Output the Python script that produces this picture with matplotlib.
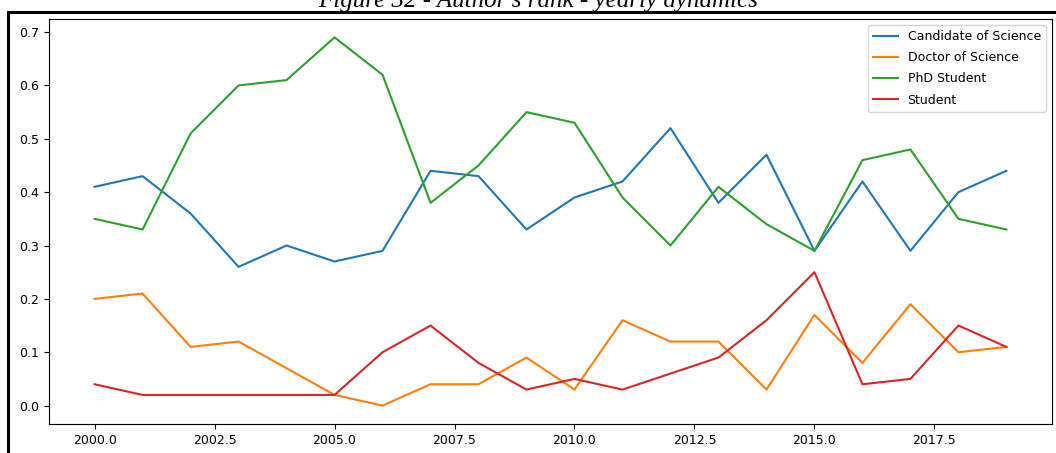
import matplotlib.pyplot as plt
from matplotlib.patches import Rectangle

years = list(range(2000, 2020))
candidate = [0.41, 0.43, 0.36, 0.26, 0.30, 0.27, 0.29, 0.44, 0.43, 0.33,
             0.39, 0.42, 0.52, 0.38, 0.47, 0.29, 0.42, 0.29, 0.40, 0.44]
doctor = [0.20, 0.21, 0.11, 0.12, 0.07, 0.02, 0.00, 0.04, 0.04, 0.09,
          0.03, 0.16, 0.12, 0.12, 0.03, 0.17, 0.08, 0.19, 0.10, 0.11]
phd = [0.35, 0.33, 0.51, 0.60, 0.61, 0.69, 0.62, 0.38, 0.45, 0.55,
       0.53, 0.39, 0.30, 0.41, 0.34, 0.29, 0.46, 0.48, 0.35, 0.33]
student = [0.04, 0.02, 0.02, 0.02, 0.02, 0.02, 0.10, 0.15, 0.08, 0.03,
           0.05, 0.03, 0.06, 0.09, 0.16, 0.25, 0.04, 0.05, 0.15, 0.11]
labels = ['Candidate of Science', 'Doctor of Science', 'PhD Student', 'Student']

plt.rcParams['font.family'] = ['DejaVu Sans']

fig = plt.figure(figsize=(10.56, 4.53), dpi=100)
ax = fig.add_axes([49 / 1056, 1 - 424 / 453, 1003 / 1056, 405 / 453])

for series, label in zip([candidate, doctor, phd, student], labels):
    ax.plot(years, series, label=label, linewidth=1.5)

ax.tick_params(labelsize=9)
ax.legend(loc='upper right', fontsize=9, labelspacing=0.65)

# black frame around the figure area and the caption above it
fig.patches.append(Rectangle((8 / 1056, -0.1), 1.2, 1 - 12 / 453 + 0.1,
                             transform=fig.transFigure, fill=False,
                             edgecolor='black', linewidth=2.2))
fig.text(0.51, 1 - 7 / 453, "Figure 32 - Author's rank - yearly dynamics",
         family='Liberation Serif', style='italic', fontsize=18,
         ha='center', va='baseline')

fig.savefig('out.png', dpi=100)
